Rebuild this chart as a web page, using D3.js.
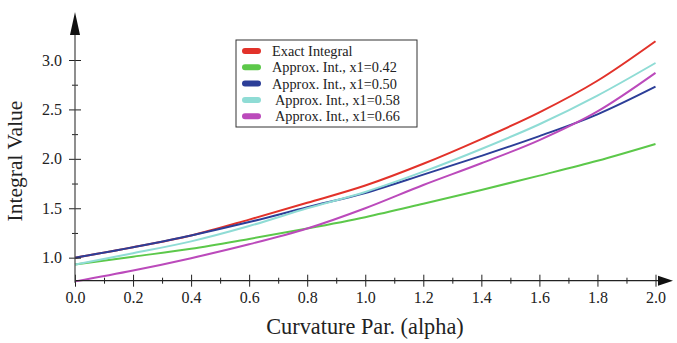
<!DOCTYPE html>
<html>
  <head>
    <meta http-equiv="Content-type" content="text/html; charset=utf-8">
    <title>Integral Value vs Curvature</title>
    <script src="https://d3js.org/d3.v7.min.js"></script>
    <style>
      body { margin: 0; background: #fff; }
      text { font-family: "Liberation Serif", "Times New Roman", serif; fill: #222; }
    </style>
  </head>
  <body>
    <div id="chart"></div>
    <script type="text/javascript">
      // alpha values (curvature parameter)
      var alpha = [0, 0.2, 0.4, 0.6, 0.8, 1.0, 1.2, 1.4, 1.6, 1.8, 2.0];

      var exactInt = [1.00, 1.105, 1.225, 1.385, 1.555, 1.73, 1.95, 2.20, 2.47, 2.79, 3.19];
      var approx042 = [0.93, 1.01, 1.09, 1.19, 1.295, 1.41, 1.545, 1.685, 1.83, 1.98, 2.15];
      var approx050 = [1.00, 1.105, 1.225, 1.36, 1.51, 1.655, 1.84, 2.03, 2.23, 2.45, 2.73];
      var approx058 = [0.93, 1.045, 1.165, 1.32, 1.50, 1.665, 1.87, 2.10, 2.35, 2.64, 2.97];
      var approx066 = [0.76, 0.87, 0.995, 1.135, 1.295, 1.50, 1.735, 1.955, 2.19, 2.48, 2.87];

      var seriesNames = ["Exact Integral", "Approx. Int., x1=0.42", "Approx. Int., x1=0.50",
                         "Approx. Int., x1=0.58", "Approx. Int., x1=0.66"];
      var seriesValues = [exactInt, approx042, approx050, approx058, approx066];

      var xMajor = [0, 0.2, 0.4, 0.6, 0.8, 1.0, 1.2, 1.4, 1.6, 1.8, 2.0];
      var xMinor = [0.1, 0.3, 0.5, 0.7, 0.9, 1.1, 1.3, 1.5, 1.7, 1.9];
      var yMajor = [1.0, 1.5, 2.0, 2.5, 3.0];
      var yMinor = [1.25, 1.75, 2.25, 2.75];

      var colors = ["#e2322a", "#5cc84a", "#2c3e98", "#8fdcd5", "#bb4abb"];

      var width = 677, height = 343;

      var x = d3.scaleLinear().domain([0, 2]).range([75, 655.5]);
      var y = d3.scaleLinear().domain([0.767, 3]).range([280.7, 60]);

      var svg = d3.select("#chart").append("svg")
        .attr("width", width)
        .attr("height", height);

      // curves
      var line = d3.line()
        .x(function(d) { return x(d[0]); })
        .y(function(d) { return y(d[1]); })
        .curve(d3.curveMonotoneX);

      svg.selectAll("path.series")
        .data(seriesValues)
        .enter().append("path")
        .attr("class", "series")
        .attr("fill", "none")
        .attr("stroke", function(d, i) { return colors[i]; })
        .attr("stroke-width", 2)
        .attr("d", function(vals) {
          return line(vals.map(function(v, i) { return [alpha[i], v]; }));
        });

      var axisY0 = y.range()[0];

      // x axis
      var xAxis = svg.append("g")
        .attr("transform", "translate(0," + axisY0 + ")")
        .call(d3.axisBottom(x).tickValues(xMajor).tickSize(6).tickFormat(d3.format(".1f")));
      xAxis.select(".domain").remove();
      xAxis.selectAll(".tick line").attr("y1", -6).attr("y2", 6).attr("stroke", "#222");
      xAxis.selectAll(".tick text").attr("y", 11).style("font-size", "16px");

      var xAxisMinor = svg.append("g")
        .attr("transform", "translate(0," + axisY0 + ")")
        .call(d3.axisBottom(x).tickValues(xMinor).tickSize(3).tickFormat(""));
      xAxisMinor.select(".domain").remove();
      xAxisMinor.selectAll(".tick line").attr("y1", -3).attr("stroke", "#222");

      // y axis
      var yAxis = svg.append("g")
        .attr("transform", "translate(" + x(0) + ",0)")
        .call(d3.axisLeft(y).tickValues(yMajor).tickSize(6).tickFormat(d3.format(".1f")));
      yAxis.select(".domain").remove();
      yAxis.selectAll(".tick line").attr("x1", 6).attr("x2", -6).attr("stroke", "#222");
      yAxis.selectAll(".tick text").attr("x", -13).style("font-size", "16px");

      var yAxisMinor = svg.append("g")
        .attr("transform", "translate(" + x(0) + ",0)")
        .call(d3.axisLeft(y).tickValues(yMinor).tickSize(3).tickFormat(""));
      yAxisMinor.select(".domain").remove();
      yAxisMinor.selectAll(".tick line").attr("x1", 3).attr("stroke", "#222");

      svg.selectAll(".tick text").style("font-family", "'Liberation Serif', 'Times New Roman', serif").attr("fill", "#333");

      // axis lines with arrows
      svg.append("line")
        .attr("x1", x(0)).attr("x2", 660)
        .attr("y1", axisY0).attr("y2", axisY0)
        .attr("stroke", "#222").attr("stroke-width", 1.2);
      svg.append("path")
        .attr("d", "M658," + (axisY0 - 5) + "L673," + axisY0 + "L658," + (axisY0 + 5) + "Z")
        .attr("fill", "#111");

      svg.append("line")
        .attr("x1", x(0)).attr("x2", x(0))
        .attr("y1", axisY0 + 2).attr("y2", 33)
        .attr("stroke", "#444").attr("stroke-width", 1.2);
      svg.append("path")
        .attr("d", "M" + (x(0) - 5) + ",35L" + x(0) + ",12L" + (x(0) + 5) + ",35Z")
        .attr("fill", "#111");

      // axis titles
      svg.append("text")
        .attr("x", 365).attr("y", 334)
        .attr("text-anchor", "middle")
        .style("font-size", "22.3px")
        .text("Curvature Par. (alpha)");

      svg.append("text")
        .attr("transform", "translate(22,161) rotate(-90)")
        .attr("text-anchor", "middle")
        .style("font-size", "21.5px")
        .text("Integral Value");

      // legend
      var legend = svg.append("g");
      legend.append("rect")
        .attr("x", 236).attr("y", 40)
        .attr("width", 181).attr("height", 87)
        .attr("fill", "#fff")
        .attr("stroke", "#333").attr("stroke-width", 1);

      var item = legend.selectAll("g.item")
        .data(seriesNames)
        .enter().append("g")
        .attr("class", "item")
        .attr("transform", function(d, i) { return "translate(0," + (51 + i * 16.3) + ")"; });

      item.append("rect")
        .attr("x", 242).attr("y", -3)
        .attr("width", 19).attr("height", 6)
        .attr("rx", 3).attr("ry", 3)
        .attr("fill", function(d, i) { return colors[i]; });

      item.append("text")
        .attr("x", function(d, i) { return i < 3 ? 272 : 275; })
        .attr("dy", "0.35em")
        .style("font-size", "14.3px")
        .text(function(d) { return d; });
    </script>
  </body>
</html>
